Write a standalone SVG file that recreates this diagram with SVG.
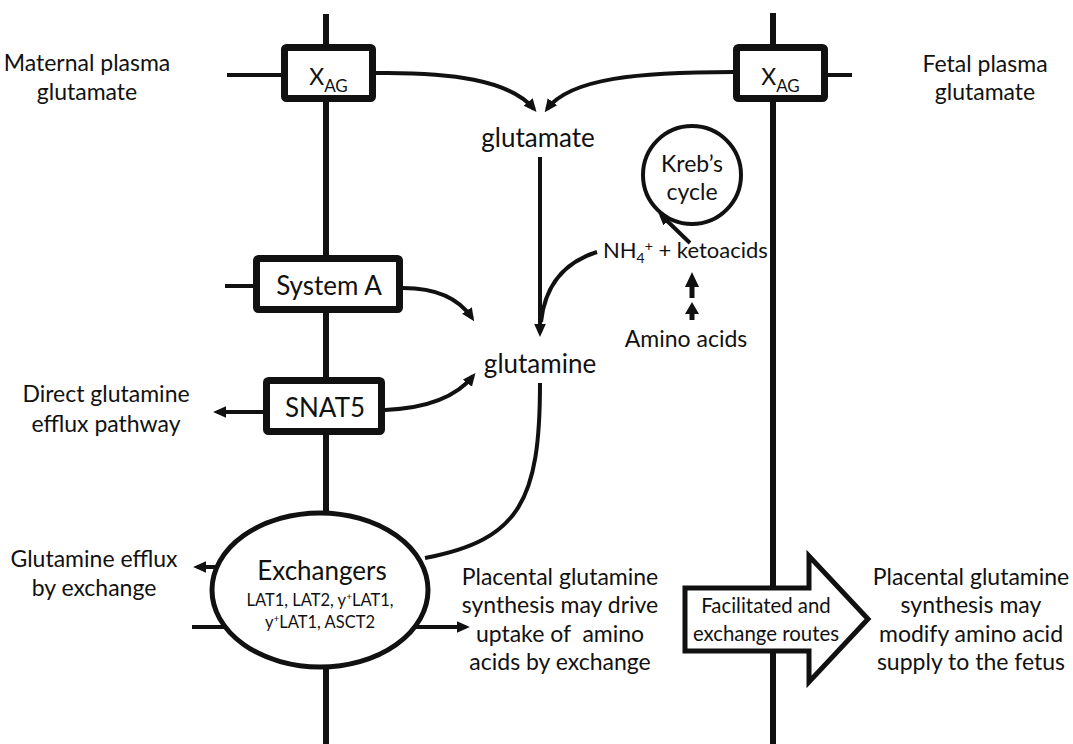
<svg xmlns="http://www.w3.org/2000/svg" width="1073" height="744" viewBox="0 0 1073 744">
<defs>
<style>
.t{font-family:Lato,"Open Sans","Liberation Sans",sans-serif;fill:#111;}
.big{font-size:26px;}
.side{font-size:23px;}
.sm{font-size:16.5px;}
.mid{font-size:20.4px;}
.mem{stroke:#111;stroke-width:6;fill:none;}
.box{stroke:#111;stroke-width:7;fill:#fff;}
.ln{stroke:#111;stroke-width:4;fill:none;}
.arr{stroke:#111;stroke-width:4;fill:none;marker-end:url(#ah);}
.head{fill:#111;}
</style>
<marker id="ah" viewBox="0 0 10 10" markerWidth="13" markerHeight="13" refX="7" refY="5" orient="auto" markerUnits="userSpaceOnUse">
<path d="M0,0.5 L10,5 L0,9.5 z" fill="#111"/>
</marker>
</defs>
<rect width="1073" height="744" fill="#fff"/>

<g id="membranes">
<line class="mem" x1="326" y1="14" x2="326" y2="744"/>
<line class="mem" x1="773" y1="13" x2="773" y2="744"/>
<line class="ln" x1="227" y1="75" x2="284" y2="75"/>
<line class="ln" x1="825" y1="75" x2="852" y2="75"/>
<line class="ln" x1="225" y1="286" x2="258" y2="286"/>
<line class="ln" x1="192" y1="627" x2="228" y2="627"/>
</g>

<g id="connectors">
<path class="arr" d="M376,73 C450,72 510,80 534,109"/>
<path class="arr" d="M733,72 C640,72 570,78 547,109"/>
<path class="arr" d="M540,157 L540,333"/>
<path class="ln" d="M597,252 C565,262 545,285 541,322"/>
<path class="arr" d="M690,243 L661,215"/>
<g id="double-arrow">
<rect class="head" x="689.5" y="312" width="5" height="8"/>
<polygon class="head" points="692,302 699,314 685,314"/>
<rect class="head" x="689.5" y="284" width="5" height="14"/>
<polygon class="head" points="692,272 699,287 685,287"/>
</g>
<path class="arr" d="M403,288 C440,288 460,300 472,318"/>
<path class="arr" d="M385,410 C430,408 458,395 473,376"/>
<path class="arr" d="M263,412 L217,412"/>
<path class="ln" d="M540,383 C540,500 520,540 425,558"/>
<path class="arr" d="M220,567 L197,567"/>
<path class="arr" d="M413,627 L466,627"/>
</g>

<g id="maternal-label">
<text class="t side" x="87" y="71" text-anchor="middle">Maternal plasma</text>
<text class="t side" x="87" y="100" text-anchor="middle">glutamate</text>
</g>
<g id="fetal-label">
<text class="t side" x="985" y="72" text-anchor="middle">Fetal plasma</text>
<text class="t side" x="985" y="100" text-anchor="middle">glutamate</text>
</g>

<g id="xag-maternal">
<rect class="box" x="284.5" y="47.5" width="88" height="51" rx="2"/>
<text class="t side" x="328.5" y="85" text-anchor="middle" font-size="24">X<tspan dy="7" font-size="17">AG</tspan></text>
</g>
<g id="xag-fetal">
<rect class="box" x="736.5" y="47.5" width="88" height="51" rx="2"/>
<text class="t side" x="780.5" y="85" text-anchor="middle" font-size="24">X<tspan dy="7" font-size="17">AG</tspan></text>
</g>

<g id="glutamate">
<text class="t big" x="538" y="147" text-anchor="middle">glutamate</text>
</g>

<g id="krebs">
<circle cx="692" cy="175" r="49" fill="#fff" stroke="#111" stroke-width="4"/>
<text class="t side" x="692" y="172" text-anchor="middle">Kreb’s</text>
<text class="t side" x="692" y="200" text-anchor="middle">cycle</text>
</g>

<g id="nh4">
<text class="t" font-size="22" x="603" y="258">NH<tspan dy="5" font-size="14">4</tspan><tspan dy="-12" font-size="14">+</tspan><tspan dy="7"> + ketoacids</tspan></text>
</g>

<g id="amino-acids">
<text class="t side" x="686" y="347" text-anchor="middle">Amino acids</text>
</g>

<g id="glutamine">
<text class="t big" x="540" y="373" text-anchor="middle">glutamine</text>
</g>

<g id="system-a">
<rect class="box" x="256.5" y="258.5" width="143" height="51" rx="2"/>
<text class="t big" x="329" y="295" text-anchor="middle">System A</text>
</g>

<g id="snat5">
<rect class="box" x="266.5" y="380.5" width="115" height="51" rx="2"/>
<text class="t big" x="325" y="417" text-anchor="middle">SNAT5</text>
</g>

<g id="direct-efflux">
<text class="t side" x="106" y="402" text-anchor="middle">Direct glutamine</text>
<text class="t side" x="106" y="432" text-anchor="middle">efflux pathway</text>
</g>

<g id="exchangers">
<ellipse cx="320" cy="590" rx="108" ry="77" fill="#fff" stroke="#111" stroke-width="5"/>
<text class="t big" x="322" y="580" text-anchor="middle">Exchangers</text>
<text class="t sm" x="320" y="606" text-anchor="middle">LAT1, LAT2, y<tspan dy="-6" font-size="10">+</tspan><tspan dy="6">LAT1,</tspan></text>
<text class="t sm" x="320" y="628" text-anchor="middle">y<tspan dy="-6" font-size="10">+</tspan><tspan dy="6">LAT1, ASCT2</tspan></text>
</g>

<g id="exchange-efflux">
<text class="t side" x="94" y="567" text-anchor="middle">Glutamine efflux</text>
<text class="t side" x="94" y="596" text-anchor="middle">by exchange</text>
</g>

<g id="placental-drive">
<text class="t side" x="560" y="585" text-anchor="middle">Placental glutamine</text>
<text class="t side" x="560" y="613" text-anchor="middle">synthesis may drive</text>
<text class="t side" x="560" y="642" text-anchor="middle" style="white-space:pre">uptake of  amino</text>
<text class="t side" x="560" y="670" text-anchor="middle">acids by exchange</text>
</g>

<g id="routes-arrow">
<polygon points="685,588 809,588 809,556 868,619 809,682 809,651 685,651" fill="#fff" stroke="#111" stroke-width="5" stroke-linejoin="miter"/>
<text class="t mid" x="766" y="613" text-anchor="middle">Facilitated and</text>
<text class="t mid" x="766" y="641" text-anchor="middle">exchange routes</text>
</g>

<g id="placental-modify">
<text class="t side" x="971" y="585" text-anchor="middle">Placental glutamine</text>
<text class="t side" x="971" y="613" text-anchor="middle">synthesis may</text>
<text class="t side" x="971" y="642" text-anchor="middle">modify amino acid</text>
<text class="t side" x="971" y="670" text-anchor="middle">supply to the fetus</text>
</g>
</svg>
